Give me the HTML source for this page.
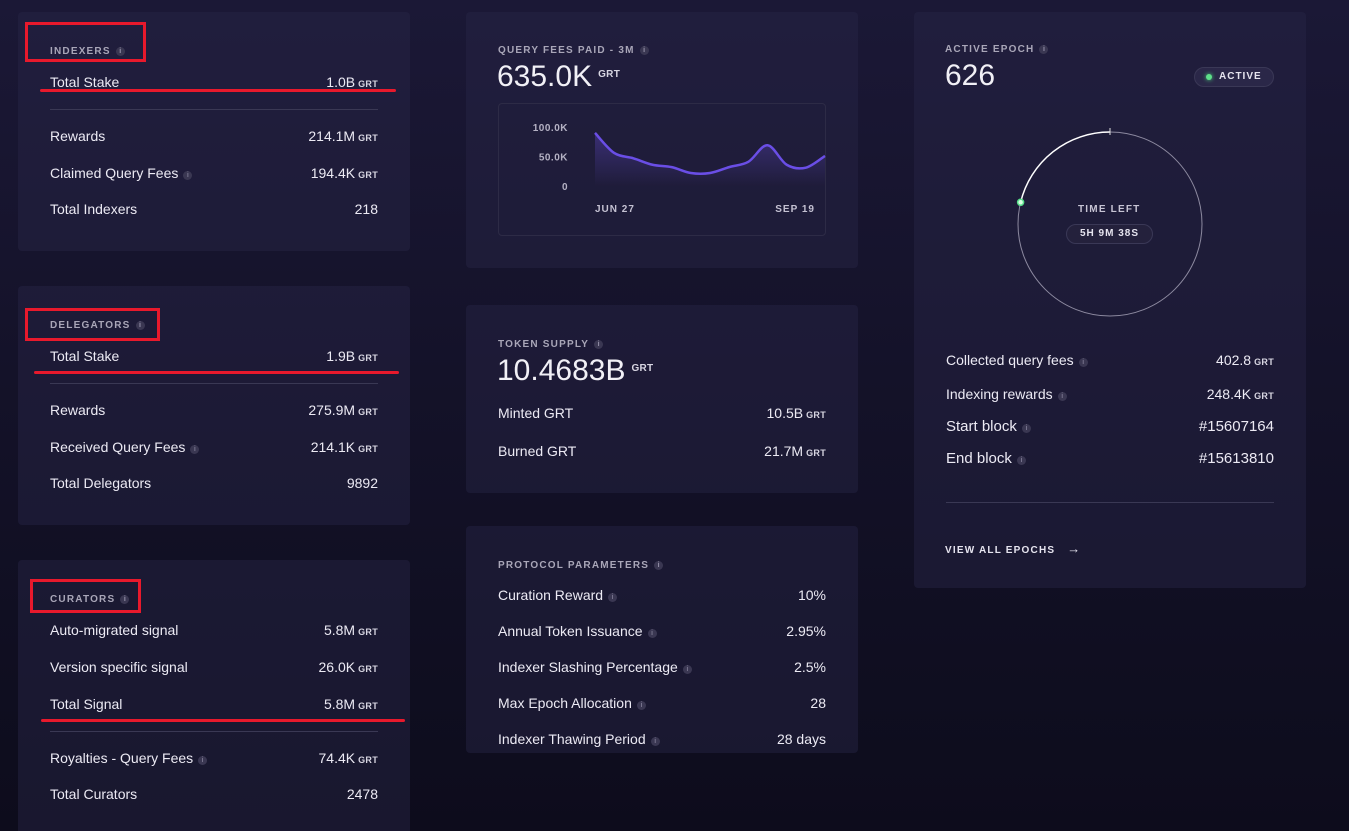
<!DOCTYPE html>
<html style="width:1349px;height:831px;overflow:hidden;background:#0d0c1c"><head><meta charset="utf-8"><style>
*{box-sizing:border-box;margin:0;padding:0}
body{width:1349px;height:831px;overflow:hidden;background:linear-gradient(180deg,#1b1836 0%,#141229 45%,#0d0c1c 100%);font-family:"Liberation Sans",sans-serif;color:#e8e6f0;position:relative}
.card{position:absolute;background:rgba(40,37,70,0.45);border-radius:4px}
.t{position:absolute;font-size:10px;font-weight:bold;letter-spacing:1.2px;color:#a9a6b8}
.i{display:inline-block;width:9px;height:9px;border-radius:50%;background:#3a3752;color:#9995ad;font-size:7px;line-height:9px;text-align:center;vertical-align:1px;margin-left:5px;letter-spacing:0}
.row{position:absolute;left:32px;right:32px;font-size:14px;height:18px;line-height:18px;color:#eceaf4}
.row .v{position:absolute;right:0;top:0}
.g{font-size:9px;font-weight:bold;letter-spacing:0.3px;margin-left:3px;color:#d8d6e2}
.hr{position:absolute;left:32px;right:32px;height:1px;background:#3a3854}
.red{position:absolute;border:3px solid #e8192c}
.redl{position:absolute;height:3px;background:#e8192c;border-radius:2px}
.big{position:absolute;font-size:30px;color:#f1f0f6}
.big .g{font-size:10px;vertical-align:9px;margin-left:6px}
</style></head><body>
<!-- column 1 -->
<div class="card" style="left:18px;top:12px;width:392px;height:239px">
 <div class="t" style="left:32px;top:34px">INDEXERS<span class="i">i</span></div>
 <div class="row" style="top:61px">Total Stake<span class="v">1.0B<span class="g">GRT</span></span></div>
 <div class="hr" style="top:97px"></div>
 <div class="row" style="top:115px">Rewards<span class="v">214.1M<span class="g">GRT</span></span></div>
 <div class="row" style="top:152px">Claimed Query Fees<span class="i">i</span><span class="v">194.4K<span class="g">GRT</span></span></div>
 <div class="row" style="top:188px">Total Indexers<span class="v">218</span></div>
</div>
<div class="card" style="left:18px;top:286px;width:392px;height:239px">
 <div class="t" style="left:32px;top:34px">DELEGATORS<span class="i">i</span></div>
 <div class="row" style="top:61px">Total Stake<span class="v">1.9B<span class="g">GRT</span></span></div>
 <div class="hr" style="top:97px"></div>
 <div class="row" style="top:115px">Rewards<span class="v">275.9M<span class="g">GRT</span></span></div>
 <div class="row" style="top:152px">Received Query Fees<span class="i">i</span><span class="v">214.1K<span class="g">GRT</span></span></div>
 <div class="row" style="top:188px">Total Delegators<span class="v">9892</span></div>
</div>
<div class="card" style="left:18px;top:560px;width:392px;height:271px;border-radius:4px 4px 0 0">
 <div class="t" style="left:32px;top:34px">CURATORS<span class="i">i</span></div>
 <div class="row" style="top:61px">Auto-migrated signal<span class="v">5.8M<span class="g">GRT</span></span></div>
 <div class="row" style="top:98px">Version specific signal<span class="v">26.0K<span class="g">GRT</span></span></div>
 <div class="row" style="top:135px">Total Signal<span class="v">5.8M<span class="g">GRT</span></span></div>
 <div class="hr" style="top:171px"></div>
 <div class="row" style="top:189px">Royalties - Query Fees<span class="i">i</span><span class="v">74.4K<span class="g">GRT</span></span></div>
 <div class="row" style="top:225px">Total Curators<span class="v">2478</span></div>
</div>
<!-- red annotations -->
<div class="red" style="left:25px;top:22px;width:121px;height:40px"></div>
<div class="redl" style="left:40px;top:89px;width:356px"></div>
<div class="red" style="left:25px;top:308px;width:135px;height:33px"></div>
<div class="redl" style="left:34px;top:371px;width:365px"></div>
<div class="red" style="left:30px;top:579px;width:111px;height:34px"></div>
<div class="redl" style="left:41px;top:719px;width:364px"></div>
<!-- column 2 -->
<div class="card" style="left:466px;top:12px;width:392px;height:256px">
 <div class="t" style="left:32px;top:33px">QUERY FEES PAID - 3M<span class="i">i</span></div>
 <div class="big" style="left:31px;top:48px">635.0K<span class="g">GRT</span></div>
 <div style="position:absolute;left:32px;top:91px;width:328px;height:133px;border:1px solid #2d2b46;border-radius:4px"></div>
</div>
<svg id="chart" style="position:absolute;left:0;top:0" width="1349" height="831">
 <defs><linearGradient id="fg" x1="0" y1="0" x2="0" y2="1"><stop offset="0" stop-color="#6b4fe0" stop-opacity="0.35"/><stop offset="1" stop-color="#6b4fe0" stop-opacity="0"/></linearGradient></defs>
</svg>
<div class="card" style="left:466px;top:305px;width:392px;height:188px">
 <div class="t" style="left:32px;top:34px">TOKEN SUPPLY<span class="i">i</span></div>
 <div class="big" style="left:31px;top:49px">10.4683B<span class="g">GRT</span></div>
 <div class="row" style="top:99px">Minted GRT<span class="v">10.5B<span class="g">GRT</span></span></div>
 <div class="row" style="top:137px">Burned GRT<span class="v">21.7M<span class="g">GRT</span></span></div>
</div>
<div class="card" style="left:466px;top:526px;width:392px;height:227px">
 <div class="t" style="left:32px;top:34px">PROTOCOL PARAMETERS<span class="i">i</span></div>
 <div class="row" style="top:60px">Curation Reward<span class="i">i</span><span class="v">10%</span></div>
 <div class="row" style="top:96px">Annual Token Issuance<span class="i">i</span><span class="v">2.95%</span></div>
 <div class="row" style="top:132px">Indexer Slashing Percentage<span class="i">i</span><span class="v">2.5%</span></div>
 <div class="row" style="top:168px">Max Epoch Allocation<span class="i">i</span><span class="v">28</span></div>
 <div class="row" style="top:204px">Indexer Thawing Period<span class="i">i</span><span class="v">28 days</span></div>
</div>
<!-- column 3 -->
<div class="card" style="left:914px;top:12px;width:392px;height:576px">
 <div class="t" style="left:31px;top:32px">ACTIVE EPOCH<span class="i">i</span></div>
 <div class="big" style="left:31px;top:47px">626</div>
 <div style="position:absolute;left:280px;top:55px;width:80px;height:20px;border:1px solid #3a3856;border-radius:10px;background:rgba(60,56,90,0.4);font-size:10px;font-weight:bold;letter-spacing:1px;line-height:18px;color:#e6e4ef;padding-left:24px"><span style="position:absolute;left:11px;top:6px;width:6px;height:6px;border-radius:50%;background:#5ee08a;box-shadow:0 0 4px #4be07f"></span>ACTIVE</div>
 <div class="t" style="left:164px;top:192px;color:#c7c4d4">TIME LEFT</div>
 <div style="position:absolute;left:152px;top:212px;width:87px;height:20px;border:1px solid #3a3856;border-radius:10px;background:rgba(40,37,64,0.6);font-size:10px;font-weight:bold;letter-spacing:1px;line-height:18px;text-align:center;color:#e6e4ef">5H 9M 38S</div>
 <div class="row" style="top:339px">Collected query fees<span class="i">i</span><span class="v">402.8<span class="g">GRT</span></span></div>
 <div class="row" style="top:373px">Indexing rewards<span class="i">i</span><span class="v">248.4K<span class="g">GRT</span></span></div>
 <div class="row" style="top:406px;font-size:15px">Start block<span class="i">i</span><span class="v">#15607164</span></div>
 <div class="row" style="top:438px;font-size:15px">End block<span class="i">i</span><span class="v">#15613810</span></div>
 <div class="hr" style="top:490px"></div>
 <div class="t" style="left:31px;top:529px;color:#e6e4ef">VIEW ALL EPOCHS <span style="margin-left:8px;font-size:13px;letter-spacing:0">→</span></div>
</div>
<svg style="position:absolute;left:0;top:0" width="1349" height="831">
 <circle cx="1110" cy="224" r="92" fill="none" stroke="#8d8aa0" stroke-width="1"/>
 <path d="M1110 132 A92 92 0 0 0 1020.6 202.3" fill="none" stroke="#ffffff" stroke-width="1.5"/>
 <line x1="1110" y1="128" x2="1110" y2="135" stroke="#ddd" stroke-width="1"/>
 <circle cx="1020.6" cy="202.3" r="3" fill="#d9ffe4" stroke="#58e08a" stroke-width="1.5"/>
</svg>
<script>
const dates=["Jun 27","Jul 4","Jul 11","Jul 18","Jul 25","Aug 1","Aug 8","Aug 15","Aug 22","Aug 29","Sep 5","Sep 12","Sep 19"];
const fees=[90,56,47,36,32,22,22,32,41,69,36,31,51];
const yTicks=[0,50,100];
const yTickLabels=["0","50.0K","100.0K"];
const xTickLabels=["JUN 27","SEP 19"];
const svg=document.getElementById('chart');
const NS='http://www.w3.org/2000/svg';
const x0=595,x1=825,yb=186,yt=127;
const xs=i=>x0+(x1-x0)*i/(fees.length-1);
const ys=v=>yb-(yb-yt)*v/100;
function smooth(pts){let d='M'+pts[0][0]+' '+pts[0][1];for(let i=0;i<pts.length-1;i++){const p0=pts[i-1]||pts[i],p1=pts[i],p2=pts[i+1],p3=pts[i+2]||p2;d+=' C'+(p1[0]+(p2[0]-p0[0])/6)+' '+(p1[1]+(p2[1]-p0[1])/6)+' '+(p2[0]-(p3[0]-p1[0])/6)+' '+(p2[1]-(p3[1]-p1[1])/6)+' '+p2[0]+' '+p2[1];}return d;}
const pts=fees.map((v,i)=>[xs(i),ys(v)]);
const line=smooth(pts);
const area=document.createElementNS(NS,'path');


area.setAttribute('d',line+' L'+x1+' '+yb+' L'+x0+' '+yb+' Z');
area.setAttribute('fill','url(#fg)');svg.appendChild(area);
const ln=document.createElementNS(NS,'path');


ln.setAttribute('d',line);ln.setAttribute('fill','none');ln.setAttribute('stroke','#6a4ee6');ln.setAttribute('stroke-width','2.5');svg.appendChild(ln);
yTicks.forEach((v,i)=>{const t=document.createElementNS(NS,'text');


t.setAttribute('x',568);t.setAttribute('y',ys(v)+4);t.setAttribute('text-anchor','end');t.setAttribute('font-size','10');t.setAttribute('font-weight','bold');t.setAttribute('letter-spacing','0.5');t.setAttribute('fill','#b5b2c4');t.setAttribute('font-family','Liberation Sans');t.textContent=yTickLabels[i];svg.appendChild(t);});
[[0,'start'],[fees.length-2,'end']].forEach((a,k)=>{const t=document.createElementNS(NS,'text');


t.setAttribute('x',k==0?xs(0):815);t.setAttribute('y',212);t.setAttribute('text-anchor',a[1]);t.setAttribute('font-size','10');t.setAttribute('font-weight','bold');t.setAttribute('letter-spacing','1');t.setAttribute('fill','#c4c1d2');t.setAttribute('font-family','Liberation Sans');t.textContent=xTickLabels[k];svg.appendChild(t);});
</script>
</body></html>
